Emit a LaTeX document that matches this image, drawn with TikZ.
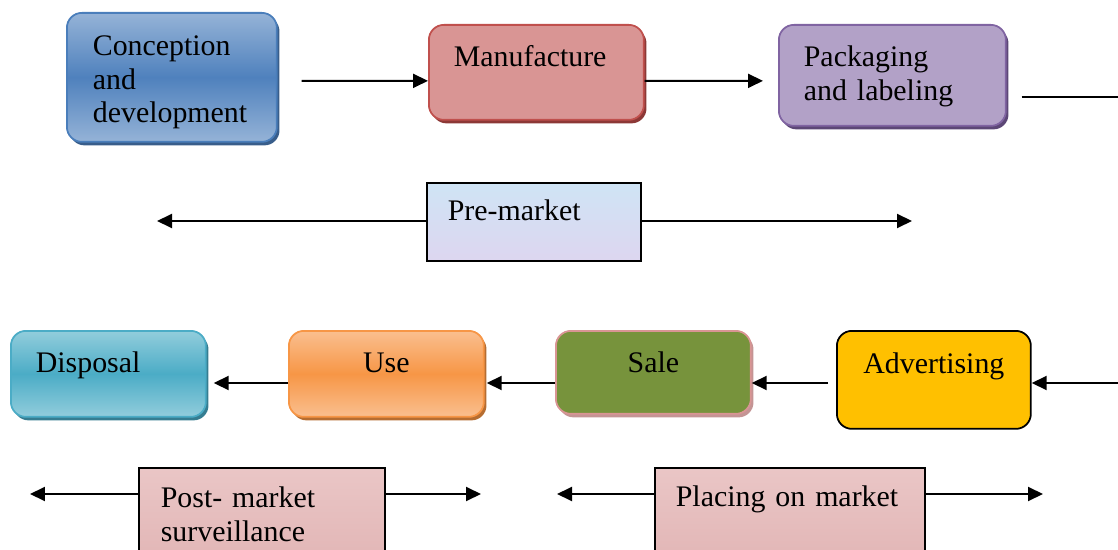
\documentclass[tikz,border=0pt]{standalone}
\usepackage{fontspec}
\setmainfont{Liberation Serif}
\usetikzlibrary{arrows.meta,shadows}

\definecolor{conceptblue}{HTML}{4F81BD}
\definecolor{conceptlight}{HTML}{95B3D7}
\definecolor{conceptedge}{HTML}{4A7EBB}
\definecolor{conceptshadow}{HTML}{385D8A}
\definecolor{manufred}{HTML}{D99594}
\definecolor{manufedge}{HTML}{C0504D}
\definecolor{manufshadow}{HTML}{8C3836}
\definecolor{packlilac}{HTML}{B2A1C7}
\definecolor{packedge}{HTML}{8064A2}
\definecolor{packshadow}{HTML}{5C4776}
\definecolor{disposalteal}{HTML}{4BACC6}
\definecolor{disposallight}{HTML}{92CDDC}
\definecolor{disposalshadow}{HTML}{357D91}
\definecolor{useorange}{HTML}{F79646}
\definecolor{uselight}{HTML}{FABF8F}
\definecolor{useshadow}{HTML}{B66D31}
\definecolor{salegreen}{HTML}{77933C}
\definecolor{saleedge}{HTML}{D99594}
\definecolor{saleshadow}{HTML}{C49494}
\definecolor{advyellow}{HTML}{FFC000}
\definecolor{prebluetop}{HTML}{CFE4F5}
\definecolor{prebluebot}{HTML}{DDD6F0}
\definecolor{pinktop}{HTML}{EAC6C6}
\definecolor{pinkbot}{HTML}{E2B6B6}

\begin{document}
\begin{tikzpicture}[x=0.02cm,y=-0.02cm,line width=1.1pt,
    >={Triangle[length=0.3cm,width=0.28cm]},
    stage/.style={rounded corners=0.3cm,line width=1pt,anchor=north west,
                  inner ysep=0pt,align=left,font=\fontsize{17}{19}\selectfont},
    band/.style={draw=black,line width=1pt,anchor=north west,
                 inner ysep=0pt,align=left,font=\fontsize{17}{19}\selectfont},
    geom/.style n args={4}{inner xsep=#1,text width=#2,text height=#3,text depth=#4},
    boxshadow/.style={general shadow={fill=#1,shadow xshift=1.5pt,shadow yshift=-2pt}}]

    \useasboundingbox (0,0) rectangle (1118,550);

    % Stages, first row
    \node[stage,geom={0.52cm}{3.16cm}{0.86cm}{1.72cm},draw=conceptedge,
          top color=conceptlight,bottom color=conceptlight,middle color=conceptblue,
          boxshadow=conceptshadow] (concept) at (66,12) {Conception\\and\\development};
    \node[stage,geom={0.5cm}{3.3cm}{0.84cm}{1.06cm},draw=manufedge,fill=manufred,
          boxshadow=manufshadow] (manuf) at (428,24) {Manufacture};
    \node[stage,geom={0.5cm}{3.54cm}{0.84cm}{1.18cm},draw=packedge,fill=packlilac,
          boxshadow=packshadow] (pack) at (778,24) {Packaging\\and labeling};

    % Phase band
    \node[band,geom={0.42cm}{3.44cm}{0.76cm}{0.8cm},
          top color=prebluetop,bottom color=prebluebot] (pre) at (426,182) {Pre-market};

    % Stages, second row
    \node[stage,geom={0.5cm}{2.9cm}{0.84cm}{0.88cm},draw=disposalteal,
          top color=disposallight,bottom color=disposallight,middle color=disposalteal,
          boxshadow=disposalshadow] (disp) at (10,330) {Disposal};
    \node[stage,geom={0.5cm}{2.9cm}{0.84cm}{0.88cm},align=center,draw=useorange,
          top color=uselight,bottom color=uselight,middle color=useorange,
          boxshadow=useshadow] (use) at (288,330) {Use};
    \node[stage,geom={0.5cm}{2.9cm}{0.84cm}{0.82cm},align=center,draw=saleedge,
          fill=salegreen,boxshadow=saleshadow] (sale) at (555,330) {Sale};
    \node[stage,geom={0.3cm}{3.28cm}{0.86cm}{1.1cm},align=center,draw=black,
          fill=advyellow] (adv) at (836,330) {Advertising};

    % Phase bands, bottom
    \node[band,geom={0.44cm}{4.04cm}{0.8cm}{1.06cm},
          top color=pinktop,bottom color=pinkbot] (post) at (138,467) {Post- market\\surveillance};
    \node[band,geom={0.42cm}{4.56cm}{0.78cm}{1.08cm},
          top color=pinktop,bottom color=pinkbot] (place) at (654,467) {Placing on market};

    % Free ends
    \coordinate (packout) at (1118,97);
    \coordinate (preL) at (157,221);
    \coordinate (preR) at (912,221);
    \coordinate (adin) at (1118,383);
    \coordinate (postL) at (30,494);
    \coordinate (postR) at (481,494);
    \coordinate (placeL) at (557,494);
    \coordinate (placeR) at (1043,494);

    % Draw connectors
    \draw[->] ([xshift=0.48cm,yshift=-0.07cm]concept.east) -- ([yshift=-0.17cm]manuf.west);
    \draw[->,shorten >=0.3cm] ([yshift=-0.17cm]manuf.east) -- ([yshift=-0.11cm]pack.west);
    \draw[shorten <=0.3cm] (pack.east |- packout) -- (packout);

    \draw[->] (pre.west |- preL) -- (preL);
    \draw[->] (pre.east |- preR) -- (preR);

    \draw[->] (adin) -- (adv.east |- adin);
    \draw[->,shorten <=0.16cm] (adv.west |- adin) -- (sale.east |- adin);
    \draw[->,shorten >=0.04cm] (sale.west |- adin) -- (use.east |- adin);
    \draw[->,shorten >=0.14cm] (use.west |- adin) -- (disp.east |- adin);

    \draw[->] (post.west |- postL) -- (postL);
    \draw[->] (post.east |- postR) -- (postR);
    \draw[->] (place.west |- placeL) -- (placeL);
    \draw[->] (place.east |- placeR) -- (placeR);

\end{tikzpicture}
\end{document}
